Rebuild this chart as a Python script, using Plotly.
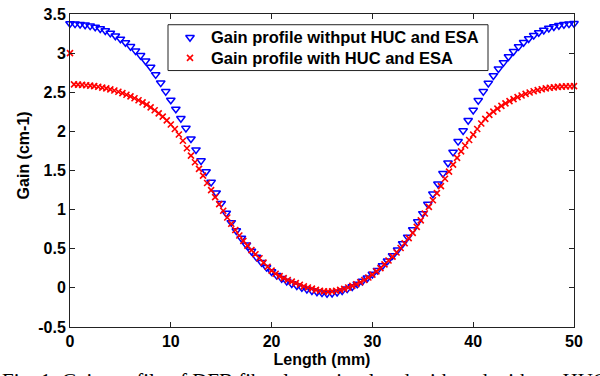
import plotly.graph_objects as go

# ---- data ----
blue_step = 0.5
blue_x = [round(i * blue_step, 2) for i in range(101)]
blue_gain = [
    3.378, 3.374, 3.368, 3.360, 3.348, 3.333, 3.312, 3.287, 3.256, 3.220,
    3.180, 3.135, 3.085, 3.030, 2.970, 2.900, 2.820, 2.725, 2.620, 2.510,
    2.400, 2.285, 2.165, 2.040, 1.905, 1.765, 1.625, 1.485, 1.350, 1.215,
    1.080, 0.955, 0.835, 0.730, 0.635, 0.548, 0.468, 0.393, 0.325, 0.262,
    0.207, 0.160, 0.120, 0.085, 0.054, 0.027, 0.003, -0.018, -0.036, -0.052,
    -0.064,
    -0.072, -0.068, -0.055, -0.037, -0.013, 0.015, 0.048, 0.085, 0.127, 0.175,
    0.225, 0.283, 0.345, 0.413, 0.485, 0.565, 0.650, 0.745, 0.845, 0.950,
    1.070, 1.200, 1.330, 1.462, 1.597, 1.735, 1.872, 2.008, 2.140, 2.270,
    2.395, 2.510, 2.615, 2.712, 2.800, 2.880, 2.955, 3.022, 3.083, 3.137,
    3.185, 3.227, 3.263, 3.293, 3.318, 3.338, 3.354, 3.366, 3.374, 3.379,
]

red_step = 0.4
red_x = [round(i * red_step, 2) for i in range(126)]
red_gain = [
    3.000, 2.600, 2.598, 2.595, 2.590, 2.585, 2.578, 2.570, 2.560, 2.550,
    2.537, 2.522, 2.506, 2.488, 2.468, 2.447, 2.423, 2.398, 2.371, 2.341,
    2.307, 2.270, 2.230, 2.188, 2.140, 2.088, 2.030, 1.960, 1.880, 1.785,
    1.690, 1.605, 1.520, 1.435, 1.340, 1.250, 1.160, 1.070, 0.985, 0.900,
    0.820, 0.740, 0.670, 0.600, 0.540, 0.482, 0.430, 0.378, 0.322, 0.270,
    0.220, 0.180, 0.150, 0.125, 0.100, 0.080, 0.060, 0.040, 0.020, 0.005,
    -0.010, -0.025, -0.037, -0.045,
    -0.048, -0.045, -0.037, -0.026, -0.012, 0.005, 0.025, 0.047, 0.072, 0.100,
    0.133, 0.170, 0.210, 0.253, 0.300, 0.350, 0.400, 0.452, 0.510, 0.570,
    0.635, 0.702, 0.780, 0.862, 0.950, 1.035, 1.120, 1.210, 1.300, 1.395,
    1.485, 1.575, 1.662, 1.745, 1.820, 1.890, 1.958, 2.030, 2.100, 2.160,
    2.210, 2.252, 2.290, 2.325, 2.357, 2.387, 2.413, 2.437, 2.459, 2.479,
    2.497, 2.513, 2.527, 2.539, 2.549, 2.557, 2.563, 2.568, 2.572, 2.575,
    2.577, 2.578,
]

series_names = ["Gain profile withput HUC and ESA", "Gain profile with HUC and ESA"]
x_ticks = [0, 10, 20, 30, 40, 50]
y_ticks = [-0.5, 0, 0.5, 1, 1.5, 2, 2.5, 3, 3.5]
y_tick_labels = ["-0.5", "0", "0.5", "1", "1.5", "2", "2.5", "3", "3.5"]
x_title = "Length (mm)"
y_title = "Gain (cm-1)"
caption = "Fig. 1: Gain profile of DFB fiber laser simulated with and without HUC and ESA"

FONT = "Liberation Sans"
W, H = 600, 376
L, R, T, B = 70, 26, 6, 49
PW, PH = W - L - R, H - T - B


def px_x(px):
    return (px - L) / PW


def px_y(py):
    return (H - B - py) / PH


blue_marker = dict(symbol="triangle-down-open", size=7.5, color="#0000FF",
                   line=dict(width=1.5, color="#0000FF"))
red_marker = dict(symbol="x-thin", size=6, color="#FF0000",
                  line=dict(width=1.6, color="#FF0000"))

fig = go.Figure()
fig.add_trace(go.Scatter(x=blue_x, y=blue_gain, mode="markers", name=series_names[0],
                         marker=blue_marker, showlegend=False, cliponaxis=False))
fig.add_trace(go.Scatter(x=red_x, y=red_gain, mode="markers", name=series_names[1],
                         marker=red_marker, showlegend=False, cliponaxis=False))

# legend (box + symbols + text), placed in pixel layout space
leg_rows = [30, 51]
leg_markers = [blue_marker, red_marker]
fig.add_shape(type="rect", xref="paper", yref="paper",
              x0=px_x(168), x1=px_x(488), y0=px_y(64), y1=px_y(17),
              line=dict(color="#222222", width=1), fillcolor="white", layer="below")
for name, row, mk in zip(series_names, leg_rows, leg_markers):
    fig.add_trace(go.Scatter(x=[px_x(190)], y=[px_y(row)], mode="markers", marker=mk,
                             xaxis="x2", yaxis="y2", showlegend=False, hoverinfo="skip"))
    fig.add_annotation(text=name, xref="paper", yref="paper", x=px_x(209), y=px_y(row),
                       xanchor="left", yanchor="middle", showarrow=False,
                       font=dict(family=FONT, size=16.5, color="black", weight="bold"))

axis_common = dict(
    showgrid=False, zeroline=False, showline=True, linecolor="#222222", linewidth=1,
    mirror="ticks", ticks="inside", ticklen=5, tickcolor="#222222", tickwidth=1,
    tickfont=dict(family=FONT, size=16, color="black", weight="bold"),
)

fig.update_layout(
    width=W, height=H,
    margin=dict(l=L, r=R, t=T, b=B),
    paper_bgcolor="white", plot_bgcolor="white",
    xaxis=dict(range=[0, 50], tickvals=x_ticks, ticktext=[str(v) for v in x_ticks],
               title=dict(text=x_title, font=dict(family=FONT, size=16, color="black", weight="bold"),
                          standoff=4),
               **axis_common),
    yaxis=dict(range=[-0.5, 3.50001], tickvals=y_ticks, ticktext=y_tick_labels,
               ticklabelstandoff=0, ticklabeloverflow="allow", **axis_common),
    xaxis2=dict(range=[0, 1], overlaying="x", visible=False, fixedrange=True),
    yaxis2=dict(range=[0, 1], overlaying="y", visible=False, fixedrange=True),
    showlegend=False,
)

fig.add_annotation(text=y_title, xref="paper", yref="paper",
                   x=px_x(23), y=px_y(151), textangle=-90,
                   showarrow=False, xanchor="center", yanchor="middle",
                   font=dict(family=FONT, size=16, color="black", weight="bold"))
fig.add_annotation(text=caption, xref="paper", yref="paper",
                   x=px_x(0), y=px_y(382), xanchor="left", yanchor="middle",
                   showarrow=False,
                   font=dict(family="Liberation Serif", size=21, color="black"))

fig.write_html("out.html", config={"displayModeBar": False},
               post_script="document.body.style.margin='0';document.body.style.padding='0';")
